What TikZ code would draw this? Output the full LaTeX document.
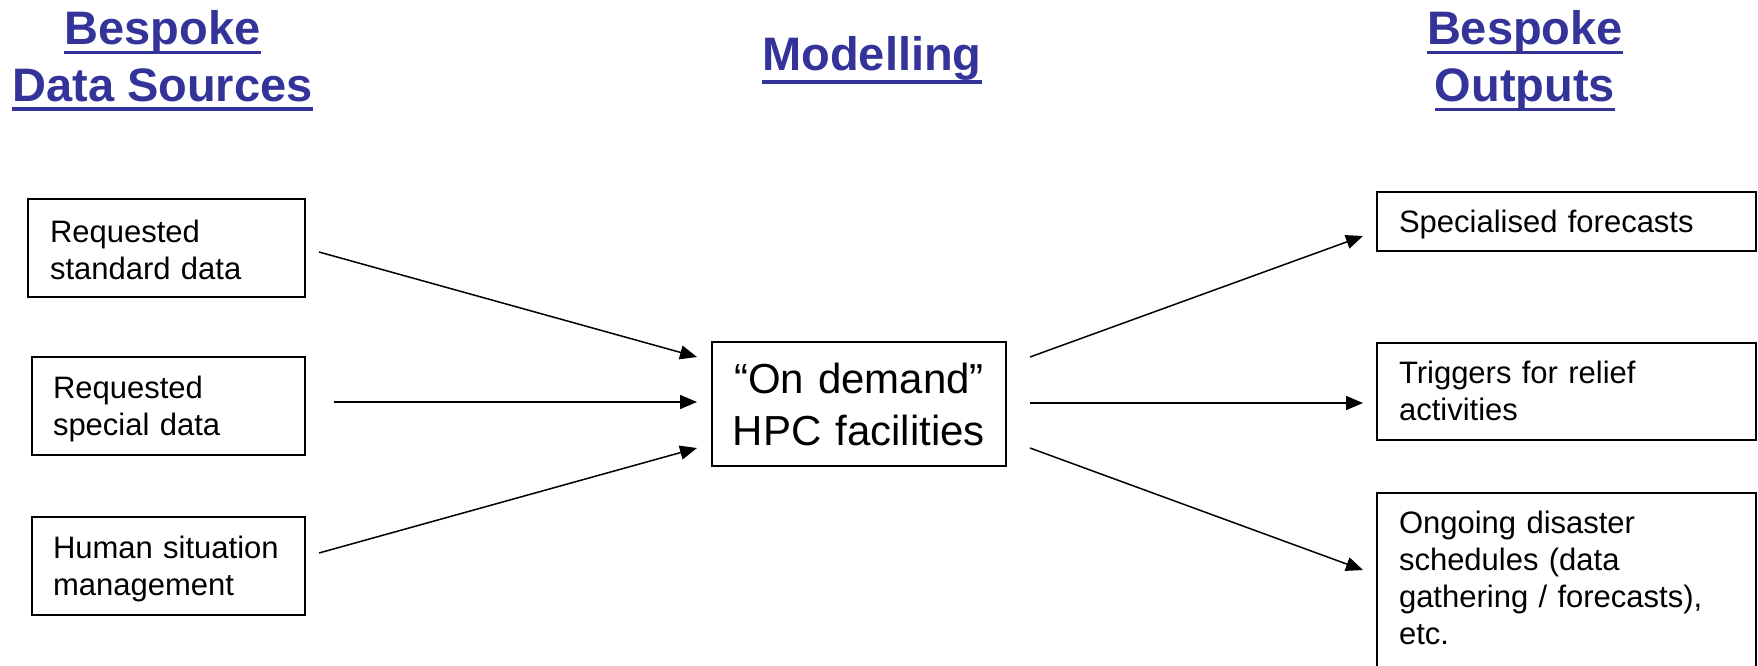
\documentclass[tikz,border=0pt]{standalone}
\usepackage{fontspec}
\setmainfont{Liberation Sans}
\usetikzlibrary{arrows.meta,calc}
\definecolor{headblue}{RGB}{51,51,153}
\tikzset{
  heading/.style={inner sep=0pt, anchor=base, text=headblue, font=\fontsize{47}{56}\selectfont\bfseries},
  uline/.style={draw=headblue, line width=3.5pt},
  srcbox/.style={draw, line width=1.6pt, anchor=north west, outer sep=0pt, align=left,
     inner ysep=18pt, font=\fontsize{31}{37}\selectfont},
  hpcbox/.style={draw, line width=1.6pt, outer sep=0pt, align=center, anchor=north west,
     inner xsep=10pt, inner ysep=18pt, text width=274pt, text height=33pt, text depth=55pt,
     font=\fontsize{42}{52}\selectfont},
  arr/.style={line width=1.5pt, -{Triangle[length=17pt,width=14pt]}}
}
\begin{document}
\begin{tikzpicture}[x=1pt,y=-1pt]
\useasboundingbox (0,0) rectangle (1758,665);
% headings
\node[heading] (h1a) at (162.5,44) {Bespoke};
\node[heading] (h1b) at (162.5,101) {Data Sources};
\node[heading] (h2) at (872,70) {Modelling};
\node[heading] (h3a) at (1525,44) {Bespoke};
\node[heading] (h3b) at (1525,101) {Outputs};
\draw[uline] ([yshift=-8.5pt]h1a.base west) -- ([yshift=-8.5pt]h1a.base east);
\draw[uline] ([yshift=-8pt]h1b.base west) -- ([yshift=-8pt]h1b.base east);
\draw[uline] ([yshift=-12pt]h2.base west) -- ([yshift=-12pt]h2.base east);
\draw[uline] ([yshift=-8.5pt]h3a.base west) -- ([yshift=-8.5pt]h3a.base east);
\draw[uline] ([yshift=-8.5pt]h3b.base west) -- ([yshift=-8.5pt]h3b.base east);
% source boxes
\node[srcbox, inner xsep=22pt, text width=233pt, text height=25pt, text depth=37pt] (s1) at (28,199) {Requested\\standard data};
\node[srcbox, inner xsep=21pt, text width=231pt, text height=23pt, text depth=39pt] (s2) at (32,357) {Requested\\special data};
\node[srcbox, inner xsep=21pt, text width=231pt, text height=23pt, text depth=39pt] (s3) at (32,517) {Human situation\\management};
% centre
\node[hpcbox] (hpc) at (712,342) {\textquotedblleft On demand\textquotedblright\\HPC facilities};
% outputs
\node[srcbox, inner xsep=22pt, text width=335pt, text height=22pt, text depth=1pt] (o1) at (1377,192) {Specialised forecasts};
\node[srcbox, inner xsep=22pt, text width=335pt, text height=22pt, text depth=39pt] (o2) at (1377,343) {Triggers for relief\\activities};
\node[srcbox, inner xsep=22pt, text width=335pt, text height=22pt, text depth=119pt] (o3) at (1377,493) {Ongoing disaster\\schedules (data\\gathering / forecasts),\\etc.};
% arrows
\draw[arr] ($(s1.east)+(14,4)$) -- ($(hpc.west)+(-15,-47)$);
\draw[arr] ($(s2.east)+(29,-4)$) -- ($(hpc.west)+(-15,-2)$);
\draw[arr] ($(s3.east)+(14,-13)$) -- ($(hpc.west)+(-15,44)$);
\draw[arr] ($(hpc.east)+(24,-47)$) -- ($(o1.west)+(-14,14.5)$);
\draw[arr] ($(hpc.east)+(24,-1)$) -- ($(o2.west)+(-14,11.5)$);
\draw[arr] ($(hpc.east)+(24,44)$) -- ($(o3.north west)+(-14,77)$);
\end{tikzpicture}
\end{document}
